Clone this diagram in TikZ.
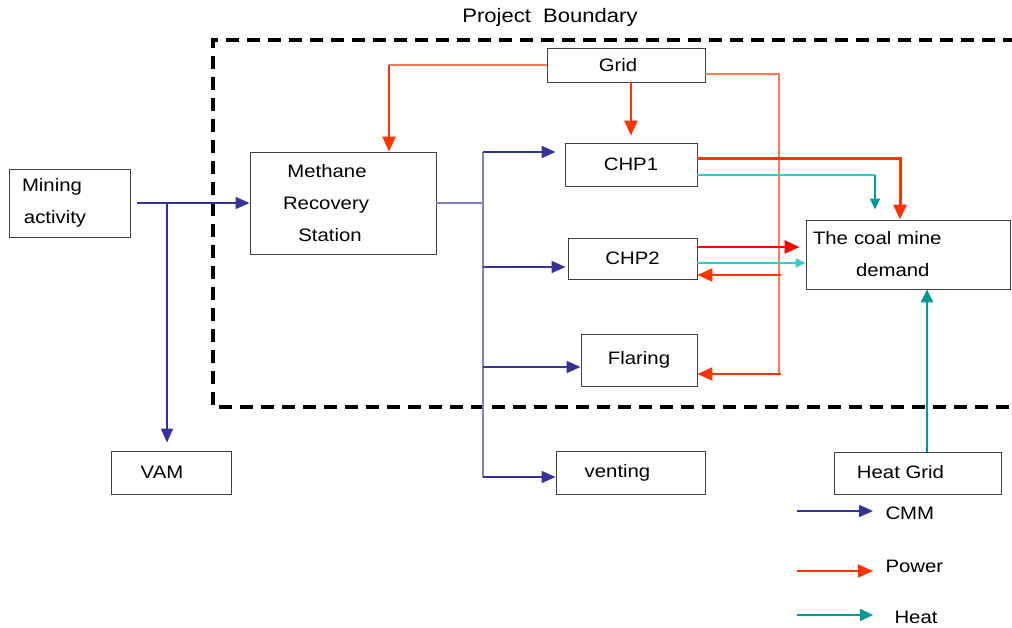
\documentclass[tikz,border=0pt]{standalone}
\usepackage{fontspec}
\setmainfont{Liberation Sans}[FakeStretch=1.13]
\usetikzlibrary{arrows.meta}
\definecolor{cmmblue}{HTML}{333399}
\definecolor{busblue}{HTML}{8080C8}
\definecolor{powred}{HTML}{FF3300}
\definecolor{powlight}{HTML}{FF7755}
\definecolor{heatteal}{HTML}{009999}
\definecolor{heatcyan}{HTML}{33CCCC}
\tikzset{
  box/.style = {draw=black!75, line width=0.9pt, inner sep=0pt,
    font=\fontsize{18}{32}\selectfont, align=center},
  cmm/.style = {draw=cmmblue, line width=1.9pt,
    -{Triangle[length=14pt,width=12pt]}},
  bus/.style = {draw=busblue, line width=1.4pt},
  power/.style = {draw=powred, line width=2.4pt,
    -{Triangle[length=15pt,width=13pt]}},
  powthin/.style = {draw=powlight, line width=1.4pt},
  heat/.style = {draw=heatteal, line width=2.4pt,
    -{Triangle[length=13pt,width=12pt]}},
  heatthin/.style = {draw=heatcyan, line width=1.4pt}
}

\begin{document}
\begin{tikzpicture}[x=1pt,y=-1pt]
  \useasboundingbox (0,0) rectangle (1012,627);

  % project boundary, open on the right
  \draw[line width=3.2pt, dash pattern=on 13pt off 8pt]
    (1016,40) -- (213,40) -- (213,407) -- (1016,407);
  \node[font=\fontsize{19.5}{22}\selectfont] (title) at (550,17) {Project\ \ Boundary};

  % boxes
  \node[box, minimum width=121pt, minimum height=68pt, text width=95pt, align=left]
    (mine) at (69.5,203) {Mining\\\hspace*{2pt}activity};
  \node[box, minimum width=186pt, minimum height=102pt]
    (mrs) at (343,203) {\hspace*{-32pt}Methane\\\hspace*{-34pt}Recovery\\\hspace*{-26pt}Station};
  \node[box, minimum width=158pt, minimum height=34pt] (grid) at (626,65) {\hspace*{-16pt}Grid};
  \node[box, minimum width=132pt, minimum height=43pt] (chp1) at (631,164.5) {CHP1};
  \node[box, minimum width=129pt, minimum height=41pt] (chp2) at (632.5,258.5) {CHP2};
  \node[box, minimum width=116pt, minimum height=52pt] (flare) at (639,360) {Flaring};
  \node[box, minimum width=204pt, minimum height=69pt, text width=190pt, align=left]
    (demand) at (908,254.5) {The coal mine\\\hspace*{43pt}demand};
  \node[box, minimum width=120pt, minimum height=43pt] (vam) at (171,472.5) {\hspace*{-18pt}VAM};
  \node[box, minimum width=149pt, minimum height=43pt] (vent) at (630.5,472.5) {\hspace*{-26pt}venting};
  \node[box, minimum width=167pt, minimum height=42pt] (heatgrid) at (917.5,473)
    {\hspace*{-34pt}\raisebox{3pt}{Heat Grid}};

  % methane flow
  \coordinate (split) at (167,203);
  \draw[cmm] ([xshift=7pt]mine.east) -- (mrs.west);
  \draw[cmm, shorten >=8pt] (split) -- (split |- vam.north);
  \coordinate (b1) at (483,152);
  \coordinate (b2) at (483,267);
  \coordinate (b3) at (483,367);
  \coordinate (b4) at (483,477);
  \draw[bus] (mrs.east) -- (b1 |- mrs.east);
  \draw[bus] (b1) -- (b4);
  \draw[cmm, shorten >=9pt] (b1) -- (b1 -| chp1.west);
  \draw[cmm, shorten >=2pt] (b2) -- (b2 -| chp2.west);
  \draw[cmm] (b3) -- (b3 -| flare.west);
  \draw[cmm] (b4) -- (b4 -| vent.west);

  % power from the grid
  \coordinate (gl) at (389,65);
  \coordinate (gr) at (779,74);
  \coordinate (gm) at (779,275);
  \coordinate (gb) at (779,374);
  \draw[powthin] (grid.west) -- (gl);
  \draw[power] (gl) -- (gl |- mrs.north);
  \draw[power, shorten >=7pt] (grid.south -| chp1.north) -- (chp1.north);
  \draw[powthin] ([yshift=-9pt]grid.east) -- (gr) -- (gb);
  \draw[power] ([xshift=2pt]gm) -- (gm -| chp2.east);
  \draw[power] ([xshift=2pt]gb) -- (gb -| flare.east);

  % power and heat to the mine
  \draw[power, line width=3pt] ([yshift=6.5pt]chp1.east) -| ([xshift=-8pt]demand.north);
  \coordinate (hc) at (875,175);
  \draw[heatthin] ([yshift=-10.5pt]chp1.east) -- (hc);
  \draw[heat, line width=1.5pt, -{Triangle[length=11pt,width=10pt]}, shorten >=10pt]
    (hc) -- (hc |- demand.north);
  \draw[power, draw=red, shorten >=6pt] ([yshift=11.5pt]chp2.east) -- ([yshift=11.5pt]chp2.east -| demand.west);
  \draw[heatthin, -{Triangle[length=10pt,width=9pt]}]
    ([yshift=-4.5pt]chp2.east) -- ([yshift=-4.5pt]chp2.east -| demand.west);
  \draw[heat, line width=2.6pt] ([xshift=9.5pt]heatgrid.north) -- ([xshift=9.5pt]heatgrid.north |- demand.south);

  % legend
  \node[anchor=west, font=\fontsize{18}{20}\selectfont] (kcmm) at (882,513) {CMM};
  \node[anchor=west, font=\fontsize{18}{20}\selectfont] (kpow) at (882,566) {Power};
  \node[anchor=west, font=\fontsize{18}{20}\selectfont] (kheat) at (891,617) {Heat};
  \draw[cmm, line width=1.6pt] ([xshift=-85pt,yshift=2pt]kcmm.west) -- ([xshift=-9pt,yshift=2pt]kcmm.west);
  \draw[power, line width=2pt] ([xshift=-85pt,yshift=-5pt]kpow.west) -- ([xshift=-9pt,yshift=-5pt]kpow.west);
  \draw[heat, line width=2pt] ([xshift=-94pt,yshift=2pt]kheat.west) -- ([xshift=-18pt,yshift=2pt]kheat.west);
\end{tikzpicture}
\end{document}
